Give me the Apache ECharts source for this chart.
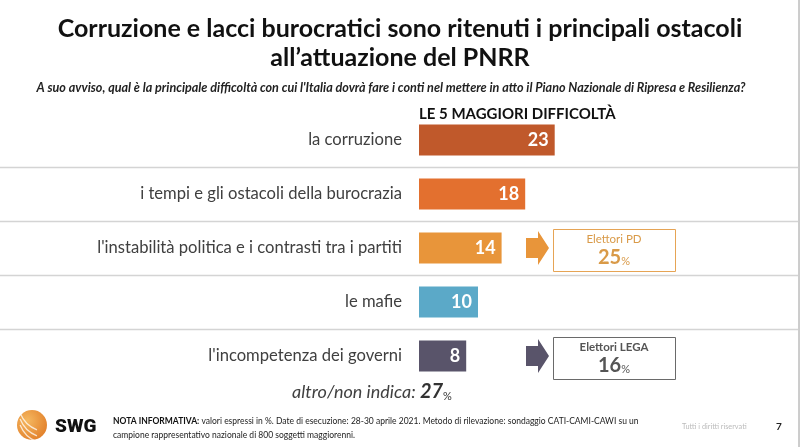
<!DOCTYPE html>
<html><head><meta charset="utf-8">
<script src="https://cdn.jsdelivr.net/npm/echarts@6/dist/echarts.min.js"></script>
<style>html,body{margin:0;padding:0;background:#fff}#c{width:800px;height:447px}</style>
</head><body><div id="c"></div>
<script>
const categories = ['la corruzione', 'i tempi e gli ostacoli della burocrazia', "l'instabilità politica e i contrasti tra i partiti", 'le mafie', "l'incompetenza dei governi"];
const values = [23, 18, 14, 10, 8];
const barColors = ['#C0592B', '#E3702F', '#E8953A', '#5BA9C8', '#59546A'];
const calloutRows = [2, 4];
const calloutLabels = ['Elettori PD', 'Elettori LEGA'];
const calloutValues = [25, 16];
const calloutBorder = ['#E6A455', '#6A6A6A'];
const calloutText = ['#D99A48', '#555555'];
const otherValue = 27;

const FONT = 'Lato, "Open Sans", sans-serif';
const chart = echarts.init(document.getElementById('c'), null, {renderer: 'canvas'});

const option = {
  animation: false,
  backgroundColor: '#fff',
  grid: {left: 419, top: 113, width: 295, height: 270, containLabel: false},
  xAxis: {type: 'value', min: 0, max: 50, show: false},
  yAxis: {
    type: 'category', data: categories, inverse: true,
    axisLine: {show: false}, axisTick: {show: false}, splitLine: {show: false},
    axisLabel: {margin: 17, fontSize: 16.6, color: '#404040', fontFamily: FONT}
  },
  series: [{
    type: 'bar', barWidth: 31,
    data: values.map((v, i) => ({value: v, itemStyle: {color: barColors[i]}})),
    label: {show: true, position: 'insideRight', distance: 6, color: '#fff', fontWeight: 'bold', fontSize: 18, fontFamily: FONT}
  }]
};
chart.setOption(option);

function build() {
  const g = [];
  const ys = categories.map(c => chart.convertToPixel({yAxisIndex: 0}, c));
  // separators
  for (let i = 0; i < ys.length - 1; i++) {
    const y = Math.round((ys[i] + ys[i + 1]) / 2) + 0.5;
    g.push({type: 'line', shape: {x1: 0, y1: y, x2: 798, y2: y}, style: {stroke: '#D4D4D4', lineWidth: 1.5}, silent: true});
  }
  g.push({type: 'line', shape: {x1: 799, y1: 0, x2: 799, y2: 447}, style: {stroke: '#9A9A9A', lineWidth: 1}});
  // titles
  g.push({type: 'text', x: 400, y: 14, style: {text: 'Corruzione e lacci burocratici sono ritenuti i principali ostacoli\nall\u2019attuazione del PNRR', align: 'center', verticalAlign: 'top', fontSize: 25, lineHeight: 29, fontWeight: 'bold', fill: '#111', fontFamily: FONT}});
  g.push({type: 'text', x: 391, y: 88, style: {text: "A suo avviso, qual è la principale difficoltà con cui l'Italia dovrà fare i conti nel mettere in atto il Piano Nazionale di Ripresa e Resilienza?", align: 'center', verticalAlign: 'middle', fontSize: 12.6, fontStyle: 'italic', fontWeight: 'bold', fill: '#222', fontFamily: FONT}});
  g.push({type: 'text', x: 419, y: 114, style: {text: 'LE 5 MAGGIORI DIFFICOLTÀ', align: 'left', verticalAlign: 'middle', fontSize: 15, fontWeight: 'bold', fill: '#111', fontFamily: FONT}});
  // callouts
  const ax1 = 526, ax2 = 549, bx = 553, bw = 122, bh = 42;
  calloutRows.forEach((r, k) => {
    const y = ys[r];
    const col = barColors[r];
    g.push({type: 'polygon', shape: {points: [[ax1, y - 10], [ax1 + 12, y - 10], [ax1 + 12, y - 17], [ax2, y], [ax1 + 12, y + 17], [ax1 + 12, y + 10], [ax1, y + 10]]}, style: {fill: col}});
    g.push({type: 'rect', shape: {x: bx + 0.5, y: Math.round(y - bh / 2 + 2) + 0.5, width: bw, height: bh}, style: {fill: '#fff', stroke: calloutBorder[k], lineWidth: 1}});
    g.push({type: 'text', x: bx + bw / 2, y: y - 9, style: {text: calloutLabels[k], align: 'center', verticalAlign: 'middle', fontSize: 11.5, fontWeight: k === 1 ? 'bold' : 'normal', fill: calloutText[k], fontFamily: FONT}});
    g.push({type: 'text', x: bx + bw / 2, y: y + 10, style: {text: '{a|' + calloutValues[k] + '}{b|%}', align: 'center', verticalAlign: 'middle', fontFamily: FONT,
      rich: {a: {fontSize: 20, fontWeight: 'bold', fill: calloutText[k], fontFamily: FONT, verticalAlign: 'bottom'}, b: {fontSize: 11, fill: calloutText[k], fontFamily: FONT, verticalAlign: 'bottom', padding: [0, 0, 1, 0]}}}});
  });
  // altro
  g.push({type: 'text', x: 372, y: 392, style: {text: '{a|altro/non indica: }{b|' + otherValue + '}{c|%}', align: 'center', verticalAlign: 'middle', fontFamily: FONT,
    rich: {a: {fontSize: 18, fontStyle: 'italic', fill: '#404040', fontFamily: FONT}, b: {fontSize: 20, fontStyle: 'italic', fontWeight: 'bold', fill: '#333', fontFamily: FONT}, c: {fontSize: 11, fill: '#333', fontFamily: FONT, verticalAlign: 'bottom'}}}});
  // logo
  g.push({type: 'circle', shape: {cx: 32, cy: 425, r: 15}, style: {fill: new echarts.graphic.RadialGradient(0.35, 0.35, 0.8, [{offset: 0, color: '#F5B860'}, {offset: 1, color: '#E07A25'}])}});
  [-6, 0, 6].forEach(dy => {
    g.push({type: 'arc', shape: {cx: 48, cy: 408 + dy, r: 30, startAngle: Math.PI * 0.62, endAngle: Math.PI * 0.88}, style: {stroke: 'rgba(255,255,255,0.75)', lineWidth: 1.3, fill: null}});
  });
  g.push({type: 'text', x: 55, y: 427, style: {text: 'SWG', align: 'left', verticalAlign: 'middle', fontSize: 19, fontWeight: 900, fill: '#111', fontFamily: 'Roboto, sans-serif'}});
  g.push({type: 'text', x: 113, y: 421, style: {text: '{b|NOTA INFORMATIVA:} valori espressi in %. Date di esecuzione: 28-30 aprile 2021. Metodo di rilevazione: sondaggio CATI-CAMI-CAWI su un', align: 'left', verticalAlign: 'middle', fontSize: 8.5, fill: '#222', fontFamily: FONT, rich: {b: {fontSize: 8.5, fontWeight: 'bold', fill: '#111', fontFamily: FONT}}}});
  g.push({type: 'text', x: 113, y: 435, style: {text: 'campione rappresentativo nazionale di 800 soggetti maggiorenni.', align: 'left', verticalAlign: 'middle', fontSize: 8.5, fill: '#222', fontFamily: FONT}});
  g.push({type: 'text', x: 682, y: 427, style: {text: 'Tutti i diritti riservati', align: 'left', verticalAlign: 'middle', fontSize: 7.3, fill: '#BBBBBB', fontFamily: FONT}});
  g.push({type: 'text', x: 776, y: 427, style: {text: '7', align: 'left', verticalAlign: 'middle', fontSize: 10, fontWeight: 'bold', fill: '#222', fontFamily: FONT}});
  chart.setOption({graphic: g});
}
build();
</script></body></html>
